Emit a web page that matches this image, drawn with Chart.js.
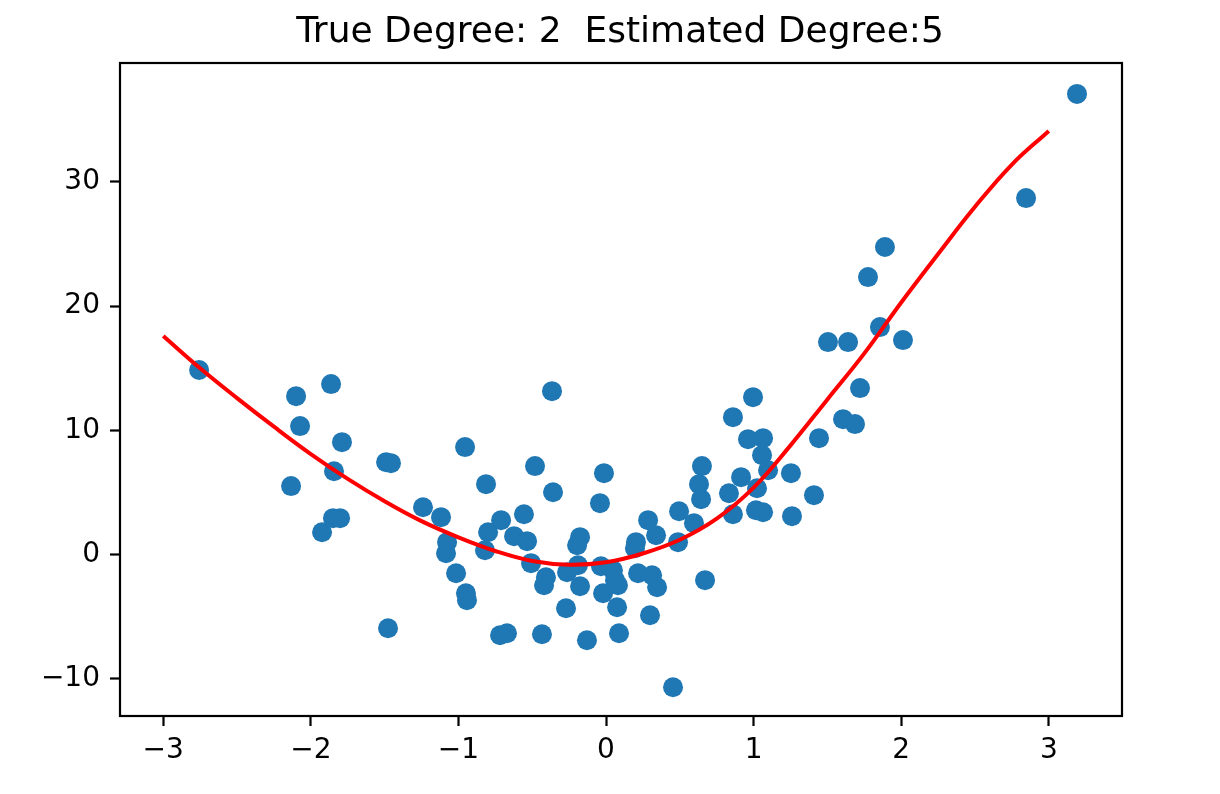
<!DOCTYPE html>
<html>
<head>
<meta charset="utf-8">
<title>True Degree: 2  Estimated Degree:5</title>
<script src="https://cdn.jsdelivr.net/npm/chart.js@4.4.0/dist/chart.umd.min.js"></script>
<style>
  html, body { margin: 0; padding: 0; background: #ffffff; }
  #wrap { width: 1220px; height: 794px; }
</style>
</head>
<body>
<div id="wrap"><canvas id="fitChart" width="1220" height="794"></canvas></div>
<script>
"use strict";

const titleText = "True Degree: 2  Estimated Degree:5";

// sample points
const sampleX = [
  -2.757, -2.100, -2.073, -1.863, -1.789, -1.843, -2.134, -1.924, -1.850, -1.802,
  -1.490, -1.457, -1.477, -1.240, -1.118, -1.077, -1.084, -1.016, -0.949, -0.942,
  -0.955, -0.813, -0.799, -0.820, -0.711, -0.718, -0.671, -0.556, -0.623, -0.535,
  -0.508, -0.481, -0.407, -0.420, -0.434, -0.366, -0.359, -0.271, -0.264, -0.190,
  -0.176, -0.196, -0.176, -0.129, -0.041, -0.014, -0.034, 0.047, 0.061, 0.081,
  -0.020, 0.075, 0.088, 0.203, 0.196, 0.217, 0.285, 0.312, 0.346, 0.339,
  0.298, 0.454, 0.488, 0.495, 0.596, 0.671, 0.650, 0.630, 0.644, 0.860,
  0.996, 0.962, 1.064, 1.057, 1.098, 1.253, 0.915, 0.833, 1.023, 0.860,
  1.016, 1.064, 1.260, 1.409, 1.443, 1.606, 1.687, 1.721, 1.504, 1.640,
  1.856, 2.012, 1.775, 1.890, 2.846, 3.191
];
const sampleY = [
  14.86, 12.76, 10.35, 13.73, 9.06, 6.72, 5.52, 1.81, 2.94, 2.94,
  7.45, 7.37, -5.92, 3.82, 3.02, 1.01, 0.12, -1.49, -3.10, -3.66,
  8.66, 5.68, 1.81, 0.36, 2.78, -6.48, -6.32, 3.26, 1.49, 1.09,
  -0.68, 7.13, -1.81, -2.46, -6.40, 13.16, 5.03, -4.31, -1.41, -0.85,
  1.41, 0.76, -2.54, -6.88, 4.15, 6.56, -0.93, -1.25, -2.05, -2.46,
  -3.10, -4.23, -6.32, 1.01, 0.52, -1.49, 2.78, -1.65, -2.62, 1.57,
  -4.87, -10.67, 1.01, 3.50, 2.54, -2.05, 7.13, 5.68, 4.47, 11.07,
  12.68, 9.30, 9.38, 8.01, 6.80, 6.56, 6.24, 4.95, 5.35, 3.26,
  3.58, 3.42, 3.10, 4.79, 9.38, 10.91, 10.51, 13.41, 17.11, 17.11,
  18.32, 17.27, 22.34, 24.76, 28.70, 37.08
];

// fitted curve
const curveX = [-3, -2.75, -2.5, -2.25, -2, -1.75, -1.5, -1.25, -1, -0.75, -0.5, -0.25, 0,
  0.25, 0.5, 0.75, 1, 1.25, 1.5, 1.75, 2, 2.25, 2.5, 2.75, 3];
const curveY = [17.6, 15.0, 12.6, 10.3, 8.1, 6.1, 4.3, 2.7, 1.4, 0.3, -0.5, -0.8, -0.6,
  0.1, 1.2, 2.9, 5.4, 8.8, 12.5, 16.2, 20.3, 24.2, 28.0, 31.4, 34.1];

const xTicks = [-3, -2, -1, 0, 1, 2, 3];
const yTicks = [-10, 0, 10, 20, 30];

document.addEventListener("DOMContentLoaded", () => {
  const canvas = document.getElementById("fitChart");

  function fmt(v) {
    return v < 0 ? "\u2212" + Math.abs(v) : String(v);
  }

  const frame = {
    id: "frame",
    afterDraw(chart) {
      const ctx = chart.ctx;
      const a = chart.chartArea;
      ctx.save();
      ctx.strokeStyle = "#000000";
      ctx.lineWidth = 2.2;
      ctx.strokeRect(a.left, a.top, a.right - a.left, a.bottom - a.top);
      ctx.fillStyle = "#000000";
      ctx.font = "36px 'DejaVu Sans'";
      ctx.textAlign = "center";
      ctx.textBaseline = "middle";
      ctx.fillText(titleText, (a.left + a.right) / 2 - 1, 33);
      ctx.restore();
    }
  };

  const tickFont = { family: "'DejaVu Sans'", size: 28 };

  new Chart(canvas, {
    data: {
      datasets: [
        {
          type: "line",
          data: curveX.map((x, i) => ({ x: x, y: curveY[i] })),
          borderColor: "#ff0000",
          borderWidth: 4,
          pointRadius: 0,
          tension: 0.4,
          fill: false
        },
        {
          type: "scatter",
          data: sampleX.map((x, i) => ({ x: x, y: sampleY[i] })),
          backgroundColor: "#1f77b4",
          borderColor: "#1f77b4",
          borderWidth: 0,
          pointRadius: 10,
          pointHoverRadius: 10
        }
      ]
    },
    options: {
      responsive: false,
      animation: false,
      devicePixelRatio: 1,
      layout: { padding: { top: 63, right: 98, bottom: 0, left: 0 } },
      plugins: {
        legend: { display: false },
        tooltip: { enabled: false },
        title: { display: false }
      },
      scales: {
        x: {
          type: "linear",
          min: -3.293,
          max: 3.496,
          afterBuildTicks: (scale) => { scale.ticks = xTicks.map((v) => ({ value: v })); },
          afterFit: (scale) => { scale.height = 78; },
          grid: { drawOnChartArea: false, drawTicks: true, tickLength: 10, tickColor: "#000000", tickWidth: 2.2 },
          border: { display: false },
          ticks: { color: "#000000", font: tickFont, padding: 8, maxRotation: 0, callback: fmt }
        },
        y: {
          type: "linear",
          min: -12.98,
          max: 39.57,
          afterBuildTicks: (scale) => { scale.ticks = yTicks.map((v) => ({ value: v })); },
          afterFit: (scale) => { scale.width = 120; },
          grid: { drawOnChartArea: false, drawTicks: true, tickLength: 10, tickColor: "#000000", tickWidth: 2.2 },
          border: { display: false },
          ticks: { color: "#000000", font: tickFont, padding: 10, callback: fmt }
        }
      }
    },
    plugins: [frame]
  });
});
</script>
</body>
</html>
